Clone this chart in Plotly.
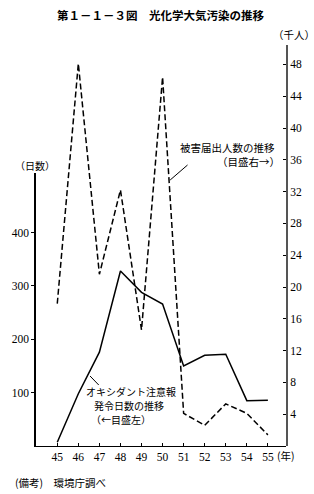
import plotly.graph_objects as go

years = [45, 46, 47, 48, 49, 50, 51, 52, 53, 54, 55]
year_labels = ["45", "46", "47", "48", "49", "50", "51", "52", "53", "54", "55"]
warning_days = [7, 98, 176, 328, 288, 266, 150, 170, 172, 85, 86]          # left axis (日数)
victims_thousand = [17.9, 48.1, 21.6, 32.2, 14.6, 46.4, 4.1, 2.6, 5.3, 4.1, 1.4]  # right axis (千人)
left_ticks = [100, 200, 300, 400]
right_ticks = [4, 8, 12, 16, 20, 24, 28, 32, 36, 40, 44, 48]

W, H = 314, 494
L, R, T, B = 28, 27, 45, 48
pw, ph = W - L - R, H - T - B

def px(x):
    return (x - L) / pw

def py(y):
    return (H - B - y) / ph

serif = "Liberation Serif"
cjk = "Noto Sans CJK JP"

fig = go.Figure()
fig.add_trace(go.Scatter(x=years, y=victims_thousand, yaxis="y2", mode="lines",
                         line=dict(color="black", width=1.5, dash="6px,3px"),
                         showlegend=False, hoverinfo="skip"))
fig.add_trace(go.Scatter(x=years, y=warning_days, yaxis="y", mode="lines",
                         line=dict(color="black", width=1.5),
                         showlegend=False, hoverinfo="skip"))

fig.update_layout(
    width=W, height=H,
    margin=dict(l=L, r=R, t=T, b=B),
    paper_bgcolor="white", plot_bgcolor="rgba(0,0,0,0)",
    xaxis=dict(range=[43.99, 55.86], tickvals=years, ticktext=year_labels,
               showgrid=False, zeroline=False, showline=True, linecolor="black", linewidth=1,
               ticks="inside", ticklen=3, tickcolor="black",
               tickfont=dict(family=serif, size=11.5, color="black")),
    yaxis=dict(domain=[0, 0.681], range=[0, 512], tickvals=left_ticks,
               showgrid=False, zeroline=False, showline=True, linecolor="black", linewidth=1.5,
               ticks="outside", ticklen=3, tickcolor="black",
               tickfont=dict(family=serif, size=11.5, color="black")),
    yaxis2=dict(domain=[0, 1], range=[0, 50.44], tickvals=right_ticks, side="right", anchor="x",
                showgrid=False, zeroline=False, showline=True, linecolor="#555", linewidth=2,
                ticks="inside", ticklen=3, tickcolor="black",
                tickfont=dict(family=serif, size=11.5, color="black")),
)

def txt(x, y, s, size=10.5, anchor="left", bold=False, family=cjk):
    fig.add_annotation(x=px(x), y=py(y), xref="paper", yref="paper", text=("<b>%s</b>" % s) if bold else s,
                       showarrow=False, xanchor=anchor, yanchor="middle",
                       font=dict(family=family, size=size, color="black"))

txt(157, 15, "第１－１－３図　光化学大気汚染の推移", size=11.5, anchor="center", bold=True)
txt(295, 34, "（千人）", size=10.5, anchor="center")
txt(27, 165, "（日数）", size=10, anchor="center")
txt(276, 455, "(年)", size=10.5)
txt(4, 483, "(備考)　環境庁調べ", size=10.5)
txt(175, 147, "被害届出人数の推移", size=10.5)
txt(213, 161, "（目盛右→）", size=10.5)
txt(78, 391, "オキシダント注意報", size=10)
txt(86, 405, "発令日数の推移", size=10)
txt(83, 419, "（←目盛左）", size=10)

fig.add_shape(type="line", xref="paper", yref="paper", x0=px(185), y0=py(165), x1=px(167), y1=py(180),
              line=dict(color="black", width=1))
fig.add_shape(type="line", xref="paper", yref="paper", x0=px(93), y0=py(385), x1=px(84), y1=py(376),
              line=dict(color="black", width=1))

fig.write_html("out.html")
